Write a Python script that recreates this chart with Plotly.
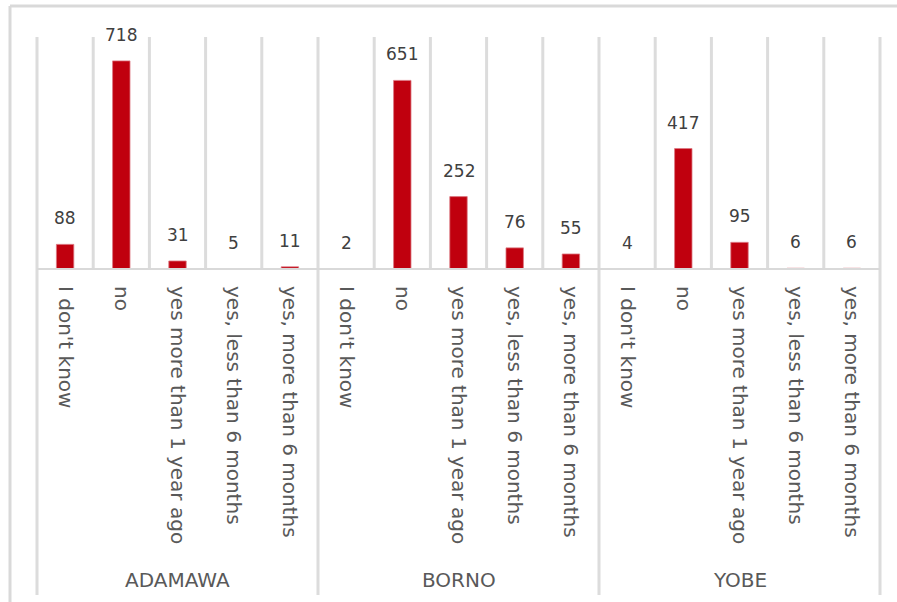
import plotly.graph_objects as go

# Survey responses by state
states = ["ADAMAWA", "BORNO", "YOBE"]
answers = [
    "I don't know",
    "no",
    "yes more than 1 year ago",
    "yes, less than 6 months",
    "yes, more than 6 months",
]
adamawa = [88, 718, 31, 5, 11]
borno = [2, 651, 252, 76, 55]
yobe = [4, 417, 95, 6, 6]

counts = adamawa + borno + yobe
labels = answers * len(states)
xpos = list(range(len(counts)))

# page geometry (pixels)
W, H = 897, 602
L, R, T, B = 37, 880, 37, 270


def px_x(px):
    return (px - L) / (R - L)


def px_y(py):
    return (B - py) / (B - T)


RED = "#C0000E"
GRID = "#dcdcdc"
TXT = "#595959"
FONT = "DejaVu Sans"

fig = go.Figure()
fig.add_trace(
    go.Bar(
        x=xpos,
        y=counts,
        width=0.31,
        marker=dict(color=RED, line=dict(color="rgba(220,120,130,0.8)", width=1)),
        hoverinfo="x+y",
    )
)

# value labels above bars
for x, v in zip(xpos, counts):
    fig.add_annotation(
        x=x, y=v, text=str(v), showarrow=False, yanchor="middle", yshift=26,
        font=dict(family=FONT, size=17, color="#404040"),
    )

# state labels under each group
n = len(answers)
for g, s in enumerate(states):
    fig.add_annotation(
        x=g * n + (n - 1) / 2, xref="x", y=px_y(580), yref="paper",
        text=s, showarrow=False, yanchor="middle",
        font=dict(family=FONT, size=20, color=TXT),
    )

shapes = []
# separators between answers inside the plot
for i in range(len(counts) - 1):
    if (i + 1) % n == 0:
        continue
    shapes.append(dict(type="line", xref="x", yref="paper", x0=i + 0.5, x1=i + 0.5,
                       y0=0, y1=1, line=dict(color=GRID, width=3), layer="below"))
# separators between states, running down through the labels
for i in range(n - 1, len(counts) - 1, n):
    shapes.append(dict(type="line", xref="x", yref="paper", x0=i + 0.5, x1=i + 0.5,
                       y0=px_y(595), y1=1, line=dict(color=GRID, width=3), layer="below"))
for xd in (0, 1):
    shapes.append(dict(type="line", xref="x domain", yref="paper", x0=xd, x1=xd,
                       y0=px_y(595), y1=1, line=dict(color=GRID, width=3), layer="below"))
# baseline
shapes.append(dict(type="line", xref="x domain", yref="y", x0=0, x1=1, y0=0, y1=0,
                   line=dict(color="#d9d9d9", width=4), layer="above"))
# chart frame
shapes.append(dict(type="line", xref="paper", yref="paper", x0=px_x(10), x1=px_x(W + 5),
                   y0=px_y(6), y1=px_y(6), line=dict(color="#d9d9d9", width=3)))
shapes.append(dict(type="line", xref="paper", yref="paper", x0=px_x(10), x1=px_x(10),
                   y0=px_y(6), y1=px_y(H + 5), line=dict(color="#d9d9d9", width=3)))

fig.update_layout(
    width=W, height=H,
    margin=dict(l=L, r=W - R, t=T, b=H - B),
    paper_bgcolor="white", plot_bgcolor="white",
    showlegend=False,
    shapes=shapes,
    xaxis=dict(
        range=[-0.5, len(counts) - 0.5],
        tickmode="array", tickvals=xpos, ticktext=labels,
        tickangle=90, ticks="", showgrid=False, zeroline=False, showline=False,
        tickfont=dict(family=FONT, size=20, color=TXT),
        ticklabelstandoff=15,
    ),
    yaxis=dict(range=[0, 800], visible=False, showgrid=False, zeroline=False),
)

fig.write_html("out.html")
